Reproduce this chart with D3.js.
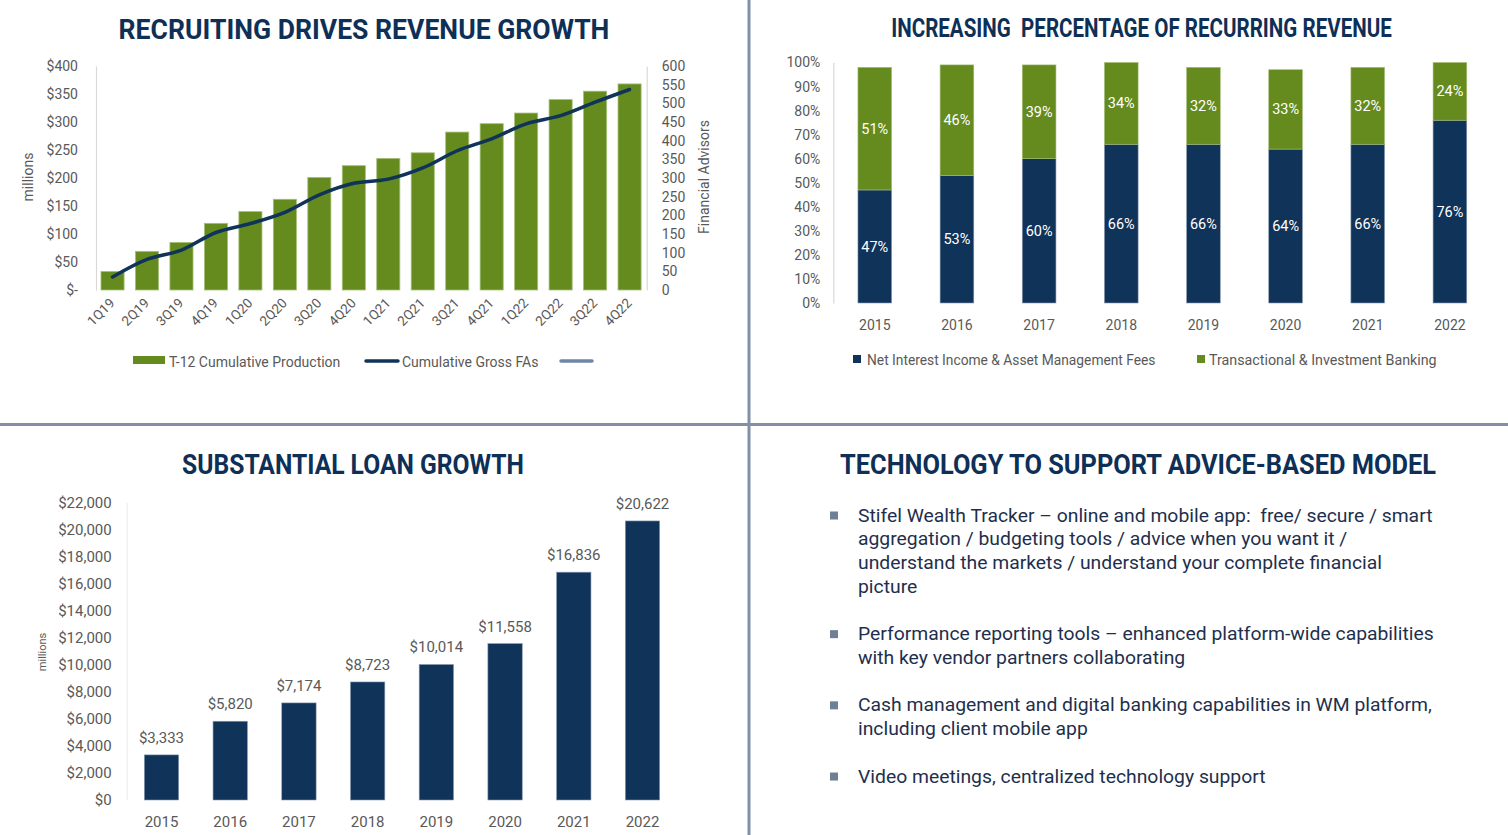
<!DOCTYPE html>
<html><head><meta charset="utf-8">
<script src="https://cdn.jsdelivr.net/npm/d3@7"></script>
<style>
html,body{margin:0;padding:0;background:#fff;}
svg{display:block;}
text{font-family:Roboto,"Noto Sans",sans-serif;}
</style></head><body>
<svg id="c" width="1508" height="835"></svg>
<script>
// ---------- DATA ----------
const quarters = ["1Q19","2Q19","3Q19","4Q19","1Q20","2Q20","3Q20","4Q20","1Q21","2Q21","3Q21","4Q21","1Q22","2Q22","3Q22","4Q22"];
const production = [33,69,85,119,140,162,201,222,235,245,282,297,316,340,355,368];
const grossFAs = [35,82,107,154,178,208,255,286,297,327,373,405,445,467,503,537];
const prodTicks = [0,50,100,150,200,250,300,350,400];
const faTicks = [0,50,100,150,200,250,300,350,400,450,500,550,600];

const years = ["2015","2016","2017","2018","2019","2020","2021","2022"];
const recurringPct = [47,53,60,66,66,64,66,76];
const transactionalPct = [51,46,39,34,32,33,32,24];
const pctTicks = [0,10,20,30,40,50,60,70,80,90,100];

const loanYears = ["2015","2016","2017","2018","2019","2020","2021","2022"];
const loans = [3333,5820,7174,8723,10014,11558,16836,20622];
const loanTicks = [0,2000,4000,6000,8000,10000,12000,14000,16000,18000,20000,22000];

const titles = ["RECRUITING DRIVES REVENUE GROWTH","INCREASING  PERCENTAGE OF RECURRING REVENUE","SUBSTANTIAL LOAN GROWTH","TECHNOLOGY TO SUPPORT ADVICE-BASED MODEL"];
const legend1 = ["T-12 Cumulative Production","Cumulative Gross FAs"];
const legend2 = ["Net Interest Income & Asset Management Fees","Transactional & Investment Banking"];
const bullets = [
  ["Stifel Wealth Tracker \u2013 online and mobile app:  free/ secure / smart","aggregation / budgeting tools / advice when you want it /","understand the markets / understand your complete financial","picture"],
  ["Performance reporting tools \u2013 enhanced platform-wide capabilities","with key vendor partners collaborating"],
  ["Cash management and digital banking capabilities in WM platform,","including client mobile app"],
  ["Video meetings, centralized technology support"]
];

// ---------- STYLE ----------
const NAVY="#10335a", GREEN="#658b1f", GRAY="#595959", AXIS="#d9d9d9", TITLE="#0e2f56", DIV="#8090a6", BODY="#1e2f4d";
const svg = d3.select("#c");

function fitWidth(sel, w){
  const cur = sel.node().getComputedTextLength();
  const k = w/cur, x = +sel.attr("x");
  sel.attr("transform", `translate(${x*(1-k)},0) scale(${k},1)`);
  return k;
}
function title(txt, cx, y, size, w){
  const t = svg.append("text").attr("x",cx).attr("y",y).attr("text-anchor","middle")
    .style("font-weight",700).style("font-size",size+"px").style("white-space","pre")
    .attr("fill",TITLE).text(txt);
  fitWidth(t,w);
}
function styleAxis(g, size){
  g.selectAll("text").style("font-size",size+"px").attr("fill",GRAY);
  g.select(".domain").attr("stroke",AXIS).attr("stroke-width",1.2);
}

// dividers
svg.append("line").attr("x1",0).attr("x2",1508).attr("y1",424.5).attr("y2",424.5).attr("stroke",DIV).attr("stroke-width",3);
svg.append("line").attr("x1",749).attr("x2",749).attr("y1",0).attr("y2",835).attr("stroke",DIV).attr("stroke-width",3);

// titles
title(titles[0], 364, 39, 28, 491);
title(titles[1], 1141.5, 37, 25, 501);
title(titles[2], 353, 474, 28, 342);
title(titles[3], 1138, 474, 28, 596);

// ---------- CHART 1 ----------
const g1 = svg.append("g");
const x1 = d3.scaleBand().domain(quarters).range([95.3,646.8]).paddingInner(0.33).paddingOuter(0.165);
const yL = d3.scaleLinear().domain([0,400]).range([290,66]);
const yR = d3.scaleLinear().domain([0,600]).range([290,66]);

g1.selectAll("rect.p").data(production).join("rect").attr("class","p")
  .attr("x",(d,i)=>x1(quarters[i])).attr("y",d=>yL(d))
  .attr("width",x1.bandwidth()).attr("height",d=>yL(0)-yL(d))
  .attr("fill",GREEN).attr("stroke","#a6bf78").attr("stroke-width",0.8);

const axL = g1.append("g").attr("transform","translate(96,0)")
  .call(d3.axisLeft(yL).tickValues(prodTicks).tickFormat(d=>d===0?"$-":"$"+d).tickSize(0).tickPadding(18));
styleAxis(axL,14);
const axR = g1.append("g").attr("transform","translate(646.7,0)")
  .call(d3.axisRight(yR).tickValues(faTicks).tickSize(0).tickPadding(15));
styleAxis(axR,14);
const axB = g1.append("g").attr("transform","translate(0,290)")
  .call(d3.axisBottom(x1).tickSize(0));
axB.select(".domain").remove();
axB.selectAll("text").attr("x",0).attr("y",0).attr("dy",0)
  .attr("transform","translate(3,14) rotate(-45)").style("text-anchor","end")
  .style("font-size","13.5px").attr("fill",GRAY);

const line1 = d3.line().x((d,i)=>x1(quarters[i])+x1.bandwidth()/2).y(d=>yR(d)).curve(d3.curveCatmullRom.alpha(0.5));
g1.append("path").datum(grossFAs).attr("d",line1).attr("fill","none").attr("stroke",NAVY)
  .attr("stroke-width",3.5).attr("stroke-linecap","round");

g1.append("text").attr("transform","translate(28,177) rotate(-90)").attr("text-anchor","middle").attr("dy","0.35em")
  .style("font-size","14px").attr("fill",GRAY).text("millions");
g1.append("text").attr("transform","translate(704,177) rotate(-90)").attr("text-anchor","middle").attr("dy","0.35em")
  .style("font-size","14px").attr("fill",GRAY).text("Financial Advisors");

// legend 1
g1.append("rect").attr("x",133).attr("y",356).attr("width",32).attr("height",8).attr("fill",GREEN);
g1.append("text").attr("x",169).attr("y",367).style("font-size","14px").attr("fill",GRAY).text(legend1[0]);
g1.append("line").attr("x1",366).attr("x2",398).attr("y1",361).attr("y2",361).attr("stroke",NAVY).attr("stroke-width",3.5).attr("stroke-linecap","round");
g1.append("text").attr("x",402).attr("y",367).style("font-size","14px").attr("fill",GRAY).text(legend1[1]);
g1.append("line").attr("x1",561).attr("x2",592).attr("y1",361).attr("y2",361).attr("stroke","#6f87a5").attr("stroke-width",3.5).attr("stroke-linecap","round");

// ---------- CHART 2 ----------
const g2 = svg.append("g");
const x2 = d3.scaleBand().domain(years).range([833.7,1491]).paddingInner(0.59).paddingOuter(0.295);
const y2 = d3.scaleLinear().domain([0,100]).range([303,62.5]);
const rows = years.map((yr,i)=>({year:yr, rec:recurringPct[i], tra:transactionalPct[i]}));
const stack = d3.stack().keys(["rec","tra"])(rows);
const cols = {rec:NAVY, tra:GREEN};
const strokes = {rec:"#8a9ab0", tra:"#a6bf78"};
stack.forEach(s=>{
  g2.selectAll("rect."+s.key).data(s).join("rect").attr("class",s.key)
    .attr("x",d=>x2(d.data.year)).attr("y",d=>y2(d[1]))
    .attr("width",x2.bandwidth()).attr("height",d=>y2(d[0])-y2(d[1]))
    .attr("fill",cols[s.key]).attr("stroke",strokes[s.key]).attr("stroke-width",0.6);
  g2.selectAll("text."+s.key).data(s).join("text").attr("class",s.key)
    .attr("x",d=>x2(d.data.year)+x2.bandwidth()/2).attr("y",d=>(y2(d[0])+y2(d[1]))/2)
    .attr("dy","0.35em").attr("text-anchor","middle").style("font-size","14.5px").attr("fill","#fff")
    .text(d=>d.data[s.key]+"%");
});
const ax2L = g2.append("g").attr("transform","translate(833.3,0)")
  .call(d3.axisLeft(y2).tickValues(pctTicks).tickFormat(d=>d+"%").tickSize(0).tickPadding(13));
styleAxis(ax2L,14);
const ax2B = g2.append("g").attr("transform","translate(0,303)").call(d3.axisBottom(x2).tickSize(0).tickPadding(17));
ax2B.select(".domain").remove();
ax2B.selectAll("text").style("font-size","14px").attr("fill",GRAY);

g2.append("rect").attr("x",853).attr("y",355).attr("width",8).attr("height",8).attr("fill",NAVY);
fitWidth(g2.append("text").attr("x",867).attr("y",365).style("font-size","14px").attr("fill",GRAY).text(legend2[0]),289);
g2.append("rect").attr("x",1197).attr("y",355).attr("width",8).attr("height",8).attr("fill",GREEN);
fitWidth(g2.append("text").attr("x",1209).attr("y",365).style("font-size","14px").attr("fill",GRAY).text(legend2[1]),228);

// ---------- CHART 3 ----------
const g3 = svg.append("g");
const x3 = d3.scaleBand().domain(loanYears).range([127.15,676.85]).paddingInner(0.5).paddingOuter(0.25);
const y3 = d3.scaleLinear().domain([0,22000]).range([800,502.3]);
const fmt = d3.format(",");
g3.selectAll("rect").data(loans).join("rect")
  .attr("x",(d,i)=>x3(loanYears[i])).attr("y",d=>y3(d))
  .attr("width",x3.bandwidth()).attr("height",d=>y3(0)-y3(d))
  .attr("fill",NAVY).attr("stroke","#8a9ab0").attr("stroke-width",0.6);
g3.selectAll("text.v").data(loans).join("text").attr("class","v")
  .attr("x",(d,i)=>x3(loanYears[i])+x3.bandwidth()/2).attr("y",d=>y3(d)-12)
  .attr("text-anchor","middle").style("font-size","15px").attr("fill",GRAY).text(d=>"$"+fmt(d));
const ax3L = g3.append("g").attr("transform","translate(126.7,0)")
  .call(d3.axisLeft(y3).tickValues(loanTicks).tickFormat(d=>"$"+fmt(d)).tickSize(0).tickPadding(15));
styleAxis(ax3L,15);
ax3L.select(".domain").attr("stroke","#eeeeee");
const ax3B = g3.append("g").attr("transform","translate(0,800)").call(d3.axisBottom(x3).tickSize(0).tickPadding(16));
ax3B.select(".domain").remove();
ax3B.selectAll("text").style("font-size","15px").attr("fill",GRAY);
g3.append("text").attr("transform","translate(42.5,652) rotate(-90)").attr("text-anchor","middle").attr("dy","0.35em")
  .style("font-size","11px").attr("fill",GRAY).text("millions");

// ---------- TEXT PANEL ----------
const g4 = svg.append("g");
const lineH = 23.73, top0 = 515;
let idx = 0, kFit = null;
bullets.forEach((b,bi)=>{
  g4.append("rect").attr("x",830).attr("y",top0+idx*lineH-3.5).attr("width",8).attr("height",8).attr("fill","#6f7f95");
  b.forEach(l=>{
    const t = g4.append("text").attr("x",858).attr("y",top0+idx*lineH).attr("dy","0.35em")
      .style("font-size","19px").style("white-space","pre").attr("fill",BODY).text(l);
    if(kFit===null){ kFit = fitWidth(t,575); }
    else t.attr("transform",`translate(${858*(1-kFit)},0) scale(${kFit},1)`);
    idx++;
  });
  idx++;
});
</script>
</body></html>
